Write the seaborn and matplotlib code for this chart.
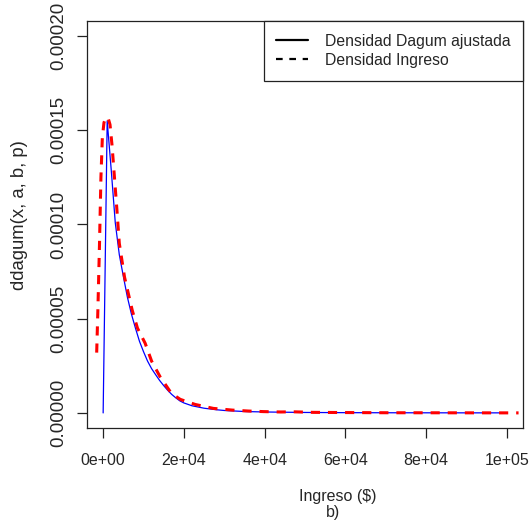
import matplotlib
matplotlib.use("Agg")
import matplotlib.pyplot as plt
import pandas as pd
import seaborn as sns
from matplotlib.lines import Line2D

# Fitted Dagum density (blue solid)
dagum_x = [0, 1000, 2000, 3000, 4000, 5000, 6000, 7000, 8000, 9000, 10000,
           11000, 12000, 13000, 14000, 15000, 16000, 17000, 18000, 19000, 20000,
           22000, 25000, 28000, 30000, 35000, 40000, 50000, 60000, 70000, 80000,
           90000, 100000]
dagum_y = [0.0, 15.5e-5, 12.9e-5, 10.1e-5, 8.4e-5, 7.25e-5, 6.15e-5, 5.25e-5,
           4.5e-5, 3.8e-5, 3.25e-5, 2.75e-5, 2.35e-5, 2.03e-5, 1.72e-5, 1.45e-5,
           1.2e-5, 0.98e-5, 0.8e-5, 0.64e-5, 0.53e-5, 0.38e-5, 0.25e-5, 0.17e-5,
           0.13e-5, 0.075e-5, 0.05e-5, 0.025e-5, 0.014e-5, 0.009e-5, 0.006e-5,
           0.004e-5, 0.003e-5]

# Empirical income density (red dashed)
ingreso_x = [-1600, -1300, -900, -550, -200, 200, 600, 1000, 1300, 1700, 2200,
             2800, 3400, 4000, 5300, 7200, 8500, 10400, 12000, 14100, 16900,
             19100, 22800, 27300, 32000, 36000, 39700, 44000, 47000, 52000,
             60000, 70000, 80000, 90000, 102900]
ingreso_y = [3.2e-5, 5.5e-5, 9.0e-5, 12.5e-5, 14.6e-5, 15.4e-5, 15.65e-5,
             15.55e-5, 15.6e-5, 15.3e-5, 14.2e-5, 12.5e-5, 10.8e-5, 9.0e-5,
             7.2e-5, 5.45e-5, 4.5e-5, 3.7e-5, 2.75e-5, 1.92e-5, 1.04e-5,
             0.72e-5, 0.45e-5, 0.24e-5, 0.15e-5, 0.1e-5, 0.07e-5, 0.05e-5,
             0.06e-5, 0.03e-5, 0.02e-5, 0.01e-5, 0.008e-5, 0.005e-5, 0.002e-5]

x_ticks = [0, 20000, 40000, 60000, 80000, 100000]
x_tick_labels = ["0e+00", "2e+04", "4e+04", "6e+04", "8e+04", "1e+05"]
y_ticks = [0.0, 0.00005, 0.0001, 0.00015, 0.0002]
y_tick_labels = ["0.00000", "0.00005", "0.00010", "0.00015", "0.00020"]
legend_labels = ["Densidad Dagum ajustada", "Densidad Ingreso"]
x_title = "Ingreso ($)"
sub_title = "b)"
y_title = "ddagum(x, a, b, p)"

sns.set_style("white")
plt.rcParams["font.family"] = ["Liberation Sans", "DejaVu Sans"]

W, H = 529, 525
fig = plt.figure(figsize=(W / 100, H / 100), dpi=100)
ax = fig.add_axes([87 / W, 1 - 428 / H, (523 - 87) / W, (428 - 21) / H])

df_d = pd.DataFrame({"x": dagum_x, "y": dagum_y})
df_i = pd.DataFrame({"x": ingreso_x, "y": ingreso_y})
sns.lineplot(data=df_d, x="x", y="y", ax=ax, color="#0000FF", linewidth=0.9,
             estimator=None, sort=False, legend=False)
sns.lineplot(data=df_i, x="x", y="y", ax=ax, color="#FF0000", linewidth=2.2,
             estimator=None, sort=False, legend=False)
ax.lines[-1].set_dashes([3, 2.6])

ax.set_xlim(-4000, 104000)
ax.set_ylim(-0.000008, 0.000208)
ax.set_xticks(x_ticks)
ax.set_xticklabels(x_tick_labels, fontsize=11.5)
ax.set_yticks(y_ticks)
ax.set_yticklabels(y_tick_labels, fontsize=13.5, rotation=90, va="center")
ax.set_xlabel("")
ax.set_ylabel("")

for s in ax.spines.values():
    s.set_visible(True)
    s.set_color("#222222")
    s.set_linewidth(0.9)
ax.tick_params(axis="both", direction="out", length=7.5, width=0.9,
               color="#222222", bottom=True, left=True)
ax.tick_params(axis="x", pad=10.5)
ax.tick_params(axis="y", pad=7)

handles = [Line2D([], [], color="black", linewidth=1.6),
           Line2D([], [], color="black", linewidth=1.6, dashes=(3, 3))]
leg = ax.legend(handles, legend_labels, loc="upper right", bbox_to_anchor=(1, 1),
                borderaxespad=0, fancybox=False, frameon=True, fontsize=11.3,
                borderpad=0.8, handlelength=2.0, handletextpad=1.1,
                labelspacing=0.28)
leg.get_frame().set_edgecolor("#222222")
leg.get_frame().set_linewidth(0.9)
leg.get_frame().set_alpha(1)

fig.text(338 / W, 1 - 497 / H, x_title, ha="center", va="center", fontsize=11.5)
fig.text(333 / W, 1 - 512 / H, sub_title, ha="center", va="center", fontsize=11.5)
fig.text(20 / W, 1 - 215 / H, y_title, ha="center", va="center", rotation=90,
         fontsize=13.3)

fig.savefig("out.png", dpi=100)
